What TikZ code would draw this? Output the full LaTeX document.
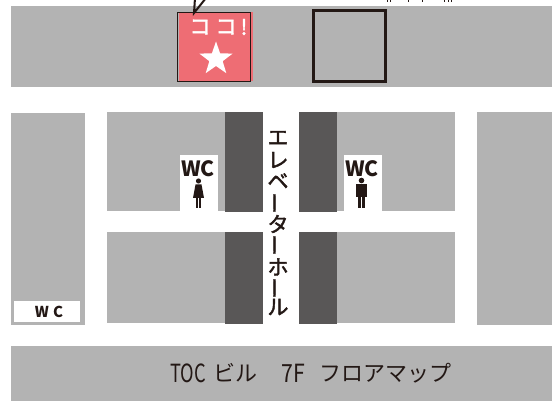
\documentclass[tikz,border=0pt]{standalone}
\usepackage{fontspec}
\usetikzlibrary{shapes.geometric}
\newfontfamily\jpfont{Noto Sans CJK JP}
\newfontfamily\jpmedium[FakeBold=2]{Noto Sans CJK JP}
\definecolor{floorgray}{HTML}{B3B3B3}
\definecolor{liftgray}{HTML}{595757}
\definecolor{herered}{HTML}{EE6D74}
\definecolor{inkblack}{HTML}{231815}

\begin{document}
\begin{tikzpicture}[x=1pt,y=-1pt,
    shop/.style ={fill=floorgray},
    lift/.style ={fill=liftgray},
    toilet/.style ={fill=white},
    figure/.style ={fill=inkblack},
    hall/.style ={font=\jpmedium\fontsize{21}{21}\selectfont, text=inkblack, inner sep=0pt},
    wclabel/.style ={font=\jpfont\bfseries\fontsize{21}{21}\selectfont, text=inkblack, inner sep=0pt},
    title/.style ={font=\jpfont\fontsize{22}{22}\selectfont, text=inkblack, inner sep=0pt},
    titlelatin/.style ={font=\jpfont\fontsize{25}{25}\selectfont, text=inkblack, inner sep=0pt},
    here/.style ={font=\jpmedium\fontsize{21}{21}\selectfont, text=white, inner sep=0pt}]
   \path[use as bounding box, clip] (0,0) rectangle (552,401);
   % shops
   \fill[shop] (11,6) rectangle (552,87);
   \fill[shop] (11,113) rectangle (85,325);
   \fill[shop] (107,112) rectangle (225,211);
   \fill[shop] (107,232) rectangle (225,323);
   \fill[shop] (337,112) rectangle (455,211);
   \fill[shop] (337,232) rectangle (455,323);
   \fill[shop] (477,112) rectangle (552,325);
   \fill[shop] (11,346) rectangle (552,401);
   % lifts
   \fill[lift] (225,112) rectangle (263,212);
   \fill[lift] (225,232) rectangle (263,324);
   \fill[lift] (299,112) rectangle (337,212);
   \fill[lift] (299,232) rectangle (337,324);
   % here mark
   \fill[herered] (179,12) rectangle (252.7,81.3);
   \draw[inkblack, line width=.8pt] (177,12) rectangle (250.6,81.3);
   \draw[inkblack, line width=2pt, miter limit=6] (195,-2) -- (194,13) -- (206,-2);
   \node[here] (koA) at (200,27) {コ};
   \node[here] (koB) at (226,27) {コ};
   \node[here] (bang) at (244,27) {!};
   \node[star, star points=5, star point ratio=2.5, fill=white, minimum size=35pt, inner sep=0pt] (hereStar) at (216,59) {};
   % empty room
   \draw[inkblack, line width=3pt] (313.8,10.5) rectangle (385.2,81.2);
   % cut off text at the top edge
   \foreach \xa in {387,390,408,422,444,448,451}
      \draw[inkblack, line width=1pt] (\xa,0) -- (\xa,2);
   % toilets
   \fill[toilet] (180,155) rectangle (218,211);
   \fill[toilet] (344,155) rectangle (382,211);
   \fill[toilet] (14,301) rectangle (80,322);
   \node[wclabel] (wcL) at (198,169) {WC};
   \node[wclabel] (wcR) at (362,169) {WC};
   \node[font=\jpfont\bfseries\fontsize{15}{15}\selectfont, text=inkblack, inner sep=0pt] (wcS) at (49,312) {W\hspace{4pt}C};
   % woman
   \fill[figure] (198.5,181) circle (2.6);
   \fill[figure] (195.5,184.5) -- (201.5,184.5) -- (204,198) -- (193,198) -- cycle;
   \fill[figure] (195.8,198) rectangle (198,208);
   \fill[figure] (199,198) rectangle (201.2,208);
   % man
   \fill[figure] (361.5,180.5) circle (2.8);
   \fill[figure] (356,184.5) rectangle (367,197);
   \fill[figure] (358,197) rectangle (361,208);
   \fill[figure] (362,197) rectangle (365,208);
   % hall
   \node[hall] (h1) at (278,138) {エ};
   \node[hall] (h2) at (278,160) {レ};
   \node[hall] (h3) at (278,181) {ベ};
   \node[hall, rotate=90] (h4) at (278,203) {ー};
   \node[hall] (h5) at (278,224) {タ};
   \node[hall, rotate=90] (h6) at (278,245) {ー};
   \node[hall] (h7) at (278,267) {ホ};
   \node[hall, rotate=90] (h8) at (278,288) {ー};
   \node[hall] (h9) at (278,307) {ル};
   % title
   \node[titlelatin, xscale=.73] (tA) at (188,373) {TOC};
   \node[title] (tB) at (235.5,373) {ビル};
   \node[titlelatin, xscale=.85] (tC) at (293,373) {7F};
   \node[title, anchor=west] (tD) at (319,373) {フロアマップ};
 \end{tikzpicture}
\end{document}
